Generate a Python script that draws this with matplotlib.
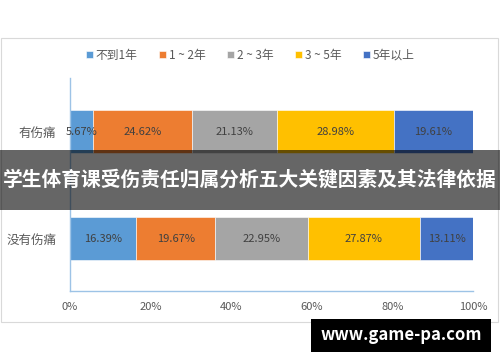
import numpy as np
import matplotlib.pyplot as plt
from matplotlib.patches import Rectangle

plt.rcParams['font.family'] = ['Noto Sans CJK SC', 'DejaVu Sans']

categories = ['没有伤痛', '有伤痛']
series_names = ['不到1年', '1 ~ 2年', '2 ~ 3年', '3 ~ 5年', '5年以上']
values = [
    [16.39, 5.67],
    [19.67, 24.62],
    [22.95, 21.13],
    [27.87, 28.98],
    [13.11, 19.61],
]
colors = ['#5B9BD5', '#ED7D31', '#A5A5A5', '#FFC000', '#4472C4']
xticks = [0, 20, 40, 60, 80, 100]
title = '学生体育课受伤责任归属分析五大关键因素及其法律依据'
watermark = 'www.game-pa.com'

fig = plt.figure(figsize=(5, 3.62), dpi=100)

# outer chart frame
fig.patches.append(Rectangle((0.002, (362 - 322) / 362), 0.994, 284 / 362,
                             transform=fig.transFigure, fill=False,
                             edgecolor='#d9d9d9', linewidth=0.8, zorder=0))

ax = fig.add_axes([70 / 500, 71 / 362, 403 / 500, 213 / 362])
y = np.arange(len(categories))
left = np.zeros(len(categories))
for name, vals, col in zip(series_names, values, colors):
    vals = np.array(vals)
    bars = ax.barh(y, vals, left=left, height=0.4, color=col,
                   edgecolor='white', linewidth=0.4, label=name)
    for b, v in zip(bars, vals):
        ax.text(b.get_x() + b.get_width() / 2, b.get_y() + b.get_height() / 2,
                '%.2f%%' % v, ha='center', va='center', fontsize=8,
                color='#404040')
    left += vals

ax.set_xlim(0, 100)
ax.set_ylim(-0.49, 1.5)
ax.set_yticks(y)
ax.set_yticklabels(categories, fontsize=9, color='#595959')
ax.set_xticks(xticks)
ax.set_xticklabels(['%d%%' % t for t in xticks], fontsize=8, color='#595959')
ax.tick_params(length=0, pad=8)
ax.tick_params(axis='y', pad=10)
for s in ['top', 'right']:
    ax.spines[s].set_visible(False)
for s in ['left', 'bottom']:
    ax.spines[s].set_color('#9dc3e6')
    ax.spines[s].set_linewidth(1.0)

fig.legend(loc='center', bbox_to_anchor=(0.5, 1 - 55 / 362), ncol=5,
           frameon=False, fontsize=8.5, handlelength=0.6, handleheight=0.6,
           handletextpad=0.25, columnspacing=1.8, labelcolor='#595959')

# dark banner with title
fig.patches.append(Rectangle((0, (362 - 210) / 362), 1, 60 / 362,
                             transform=fig.transFigure, facecolor='black',
                             alpha=0.6, edgecolor='none', zorder=10))
fig.text(0.5, 1 - 180 / 362, title, ha='center', va='center', color='white',
         fontsize=14.2, fontweight='bold', zorder=11)

# watermark
fig.patches.append(Rectangle((311 / 500, (362 - 352) / 362), 180 / 500, 33 / 362,
                             transform=fig.transFigure, facecolor='black',
                             edgecolor='none', zorder=10))
fig.text(401 / 500, 1 - 335 / 362, watermark, ha='center', va='center',
         color='white', fontsize=12, fontweight='bold', zorder=11)

plt.savefig('out.png', dpi=100)
